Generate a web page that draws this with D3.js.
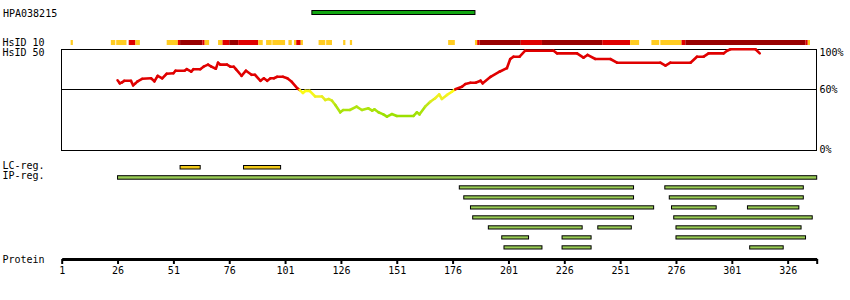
<!DOCTYPE html>
<html>
<head>
<meta charset="utf-8">
<script src="https://cdn.jsdelivr.net/npm/d3@7/dist/d3.min.js"></script>
<style>
  html, body { margin: 0; padding: 0; background: #fff; }
  svg text { font-family: "DejaVu Sans Mono", monospace; font-size: 10px; fill: #000; }
</style>
</head>
<body>
<svg id="chart" width="850" height="300"></svg>
<script>
// ---------------- data ----------------
const proteinLength = 338;
const axisTicks = [1, 26, 51, 76, 101, 126, 151, 176, 201, 226, 251, 276, 301, 326];
const percentTicks = [100, 60, 0];
const percentLabels = ["100%", "60%", "0%"];

const antigenName = "HPA038215";
const antigenRegion = [113, 186];

// HsID 10 strip: [start, end, level]  level 1 = orange, 2 = red, 3 = dark red
const hsid10Segments = [
  [5, 6, 1], [23, 25, 1], [25.4, 30, 1], [31, 34, 2], [34, 36, 1],
  [48, 53, 1], [53, 54, 2], [54, 64, 3], [64, 65, 2], [65, 67, 1],
  [71, 73, 1], [73, 76, 2], [76, 80, 3], [80, 89, 2], [89, 91, 1],
  [92.5, 95, 1], [95.3, 101, 1], [102.5, 104, 1], [105, 106, 1], [106, 108, 2], [108, 109, 1],
  [116, 119, 1], [119.4, 122, 1], [127, 128, 1], [130, 131, 1],
  [174, 177, 1],
  [186, 187, 1], [187, 188, 2], [188, 206.5, 3], [206.5, 216, 2], [216, 243, 3],
  [243, 255.5, 2], [255.5, 259.5, 1], [265, 268.5, 1], [269, 278.5, 1],
  [278.5, 280.2, 2], [280.2, 334, 3], [334, 335, 2], [335, 336, 1]
];

// HsID 50 identity line: [residue, percent]
const identityPoints = [
  [26, 69], [27, 66], [28, 67], [29, 68.5], [32, 68.5], [33, 64], [34, 66], [35, 68],
  [37, 70.5], [41, 71], [42.5, 68], [44, 73.5], [46, 71], [48, 75.5], [51, 76],
  [52, 78.5], [56, 78.5], [57, 80], [59, 77.5], [60, 80], [63, 80], [64.5, 82.5],
  [66.5, 84.5], [68, 82.5], [70, 80.5], [71, 86.5], [72, 84.5], [75, 84.5],
  [76.5, 82.5], [78, 82.5], [79, 80], [81.5, 73.5], [83.5, 78.5], [86, 74.5],
  [87.5, 74.5], [90, 68.5], [91.5, 71], [93, 68.5], [94.5, 71], [96, 71],
  [97.5, 72.5], [100, 72.5], [102, 71], [104, 67.5], [106.5, 61], [107.5, 59.5],
  [109, 56.5], [110, 58.5], [112, 58.5], [114.5, 53], [117.5, 53], [119, 49.5],
  [120.5, 50.5], [122, 48.8], [123.5, 44.6], [125.7, 37.3], [127, 39.6], [130, 39.6],
  [133, 42.9], [135.4, 39.6], [138.3, 41.3], [140, 38.9], [141, 40.3], [142.8, 37.3],
  [145, 35.3], [146.6, 33], [148.8, 35.6], [151, 33.7], [158.5, 33.7], [160, 37.3],
  [161.2, 35.3], [163.7, 42.9], [166, 47.8], [168.2, 51.2], [170, 55.1], [171.2, 50.5],
  [173.5, 54.5], [175.7, 57.7], [177.2, 60.1], [180.2, 62.7], [181.7, 65.3],
  [184, 66.6], [186.3, 66.6], [188.5, 68.6], [189.5, 66], [193, 72.5], [197, 77.5],
  [200.3, 81], [201.8, 90.1], [203.3, 92.4], [206, 92.4], [208.5, 98.3],
  [221.2, 98.3], [222.7, 95.7], [231.7, 95.7], [234.6, 91.4], [236.4, 94.1],
  [239.9, 90.1], [246.6, 90.1], [249.6, 86.4], [269, 86.4], [271.3, 83.5],
  [273.5, 86.4], [282.5, 86.4], [285.4, 92.4], [288.4, 92.4], [290.6, 95.7],
  [297.4, 95.7], [298.9, 98.3], [300.4, 99.7], [311.6, 99.7], [313.5, 95.7]
];

const lcRegions = [[54, 63], [82.4, 99]];
const ipRegion = [26, 339];
const ipRows = [
  [[179, 257], [271, 333]],
  [[181, 257], [273, 333]],
  [[184, 266], [274, 294], [308, 331]],
  [[185, 257], [275, 337]],
  [[192, 234], [241, 256], [276, 332]],
  [[198, 210], [225, 238], [276, 334]],
  [[199, 216], [225, 238], [309, 324]]
];

// ---------------- drawing ----------------
const svg = d3.select("#chart");
const x = d3.scaleLinear().domain([1, proteinLength + 1]).range([61.7, 816.7]);
const y = d3.scaleLinear().domain([0, 100]).range([150, 49]);

const levelColor = d3.scaleOrdinal().domain([1, 2, 3]).range(["#ffcc22", "#e00000", "#990000"]);
const lowColor = d3.scaleLinear().domain([60, 52, 45, 33]).range(["#ffff11", "#eeee22", "#bbe615", "#99e000"]).clamp(true);
const valueColor = v => v >= 60 ? "#e00000" : lowColor(v);

// labels
const labels = [
  ["HPA038215", 3, 16.5], ["HsID 10", 2.5, 46], ["HsID 50", 2.5, 56],
  ["LC-reg.", 2.5, 168.5], ["IP-reg.", 2.5, 178.5], ["Protein", 2.5, 262.5]
];
svg.selectAll("text.lbl").data(labels).join("text")
  .attr("class", "lbl").attr("x", d => d[1]).attr("y", d => d[2]).text(d => d[0]);

// antigen bar
svg.append("rect")
  .attr("x", x(antigenRegion[0])).attr("y", 10.5)
  .attr("width", x(antigenRegion[1]) - x(antigenRegion[0])).attr("height", 4)
  .attr("fill", "#11a611").attr("stroke", "#000").attr("stroke-width", 1);

// HsID 10 strip
svg.selectAll("rect.h10").data(hsid10Segments).join("rect")
  .attr("class", "h10")
  .attr("x", d => x(d[0])).attr("y", 40)
  .attr("width", d => x(d[1]) - x(d[0])).attr("height", 5)
  .attr("fill", d => levelColor(d[2]));

// frame
const frame = svg.append("g").attr("shape-rendering", "crispEdges");
frame.append("rect")
  .attr("x", 61.5).attr("y", y(100)).attr("width", 755).attr("height", y(0) - y(100))
  .attr("fill", "none").attr("stroke", "#000").attr("stroke-width", 1);
frame.append("line")
  .attr("x1", 61.5).attr("x2", 816.5).attr("y1", y(60)).attr("y2", y(60))
  .attr("stroke", "#000").attr("stroke-width", 1);

// percent labels
const pctOffsets = [7, 4, 3];
svg.selectAll("text.pct").data(percentTicks).join("text")
  .attr("class", "pct").attr("x", 819.5)
  .attr("y", (d, i) => y(d) + pctOffsets[i]).text((d, i) => percentLabels[i]);

// identity line as coloured segments
const segs = d3.pairs(identityPoints);
svg.append("g").selectAll("line").data(segs).join("line")
  .attr("x1", d => x(d[0][0])).attr("y1", d => y(d[0][1]))
  .attr("x2", d => x(d[1][0])).attr("y2", d => y(d[1][1]))
  .attr("stroke", d => valueColor((d[0][1] + d[1][1]) / 2))
  .attr("stroke-width", 2.6).attr("stroke-linecap", "round");

// LC regions
svg.selectAll("rect.lc").data(lcRegions).join("rect")
  .attr("class", "lc")
  .attr("x", d => x(d[0])).attr("y", 165.5)
  .attr("width", d => x(d[1]) - x(d[0])).attr("height", 3.5)
  .attr("fill", "#f0c818").attr("stroke", "#000").attr("stroke-width", 1);

// IP region
const ipFill = "#99cc55";
svg.append("rect")
  .attr("x", x(ipRegion[0])).attr("y", 175.7)
  .attr("width", x(ipRegion[1]) - x(ipRegion[0])).attr("height", 3.5)
  .attr("fill", ipFill).attr("stroke", "#000").attr("stroke-width", 1);

// IP rows
const rowG = svg.append("g");
ipRows.forEach((row, i) => {
  rowG.selectAll(null).data(row).join("rect")
    .attr("x", d => x(d[0])).attr("y", 185.8 + i * 10)
    .attr("width", d => x(d[1]) - x(d[0])).attr("height", 3.2)
    .attr("fill", ipFill).attr("stroke", "#000").attr("stroke-width", 1);
});

// protein axis
const axis = d3.axisBottom(x)
  .tickValues(axisTicks.concat([proteinLength + 1]))
  .tickSize(5).tickSizeOuter(0).tickPadding(3)
  .tickFormat(d => d > proteinLength ? "" : d);
const ag = svg.append("g").attr("transform", "translate(0,259)").call(axis);
ag.select(".domain").attr("stroke", "#000").attr("stroke-width", 3);
ag.selectAll(".tick line").attr("stroke", "#000").attr("stroke-width", 2);
ag.selectAll(".tick text").attr("font-family", "DejaVu Sans Mono, monospace").attr("font-size", 10).attr("fill", "#000");
</script>
</body>
</html>
